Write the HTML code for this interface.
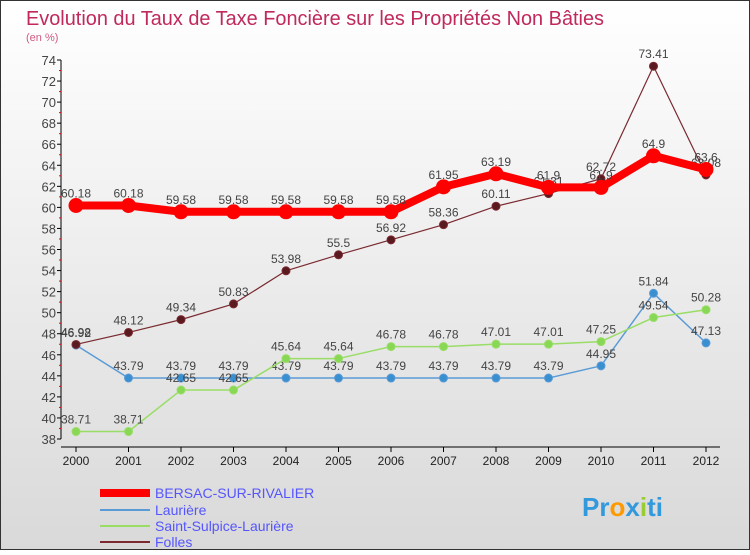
<!DOCTYPE html>
<html><head><meta charset="utf-8"><style>
body{margin:0}
#c{width:750px;height:550px;position:relative;font-family:"Liberation Sans",sans-serif;}
</style></head><body>
<div id="c">
<svg id="s" width="750" height="550" xmlns="http://www.w3.org/2000/svg" font-family="Liberation Sans, sans-serif">
<defs><linearGradient id="bg" x1="0" y1="0" x2="0" y2="1"><stop offset="0" stop-color="#ffffff"/><stop offset="1" stop-color="#d9d9d9"/></linearGradient></defs>
<rect x="0.5" y="0.5" width="749" height="549" fill="url(#bg)" stroke="#333"/>
<text x="26" y="25" font-size="20" fill="#c0295a" textLength="578" lengthAdjust="spacingAndGlyphs">Evolution du Taux de Taxe Foncière sur les Propriétés Non Bâties</text>
<text x="26" y="41" font-size="11" fill="#d05a80">(en %)</text>
<g id="axes"></g><g id="series"></g>
<g>
<line x1="100" y1="493" x2="150" y2="493" stroke="#ff0000" stroke-width="8"/>
<text x="155" y="498" font-size="14" fill="#5555ff">BERSAC-SUR-RIVALIER</text>
<line x1="100" y1="510" x2="150" y2="510" stroke="#5b9bd5" stroke-width="2"/>
<text x="155" y="515" font-size="14" fill="#5555ff">Laurière</text>
<line x1="100" y1="526" x2="150" y2="526" stroke="#99dd66" stroke-width="2"/>
<text x="155" y="531" font-size="14" fill="#5555ff">Saint-Sulpice-Laurière</text>
<line x1="100" y1="542" x2="150" y2="542" stroke="#7a2a30" stroke-width="2"/>
<text x="155" y="547" font-size="14" fill="#5555ff">Folles</text>
</g>
<text x="582" y="516" font-size="26" font-weight="bold"><tspan fill="#3399dd">Pr</tspan><tspan fill="#ff9900">o</tspan><tspan fill="#3399dd">x</tspan><tspan fill="#99cc33">i</tspan><tspan fill="#3399dd">ti</tspan></text>
</svg></div>
<script>
const years=["2000","2001","2002","2003","2004","2005","2006","2007","2008","2009","2010","2011","2012"];
const yTicks=[38,40,42,44,46,48,50,52,54,56,58,60,62,64,66,68,70,72,74];
const bersac=[60.18,60.18,59.58,59.58,59.58,59.58,59.58,61.95,63.19,61.9,61.9,64.9,63.6];
const lauriere=[46.92,43.79,43.79,43.79,43.79,43.79,43.79,43.79,43.79,43.79,44.95,51.84,47.13];
const sulpice=[38.71,38.71,42.65,42.65,45.64,45.64,46.78,46.78,47.01,47.01,47.25,49.54,50.28];
const folles=[46.98,48.12,49.34,50.83,53.98,55.5,56.92,58.36,60.11,61.31,62.72,73.41,63.08];
const NS="http://www.w3.org/2000/svg";
const X=i=>76+i*52.5, Y=v=>439-(v-38)*(379/36);
function mk(t,a,p){const e=document.createElementNS(NS,t);for(const k in a)e.setAttribute(k,a[k]);p.appendChild(e);return e;}
const ax=document.getElementById('axes'),sr=document.getElementById('series');
const yl=mk('line',{x1:61,y1:Y(74),x2:61,y2:Y(38),stroke:'#000'},ax);


yTicks.forEach(v=>{
 const t=mk('line',{x1:57,y1:Y(v),x2:61,y2:Y(v),stroke:'#000'},ax);
 
 
 if(v<74){
 const m=mk('line',{x1:59,y1:Y(v+1),x2:61,y2:Y(v+1),stroke:'#e00'},ax);
 
 
 }
 const l=mk('text',{x:56,y:Y(v)+5,'font-size':13,'text-anchor':'end',fill:'#444'},ax);l.textContent=v;
 
 
});
const xl=mk('line',{x1:61,y1:447,x2:720,y2:447,stroke:'#000'},ax);


years.forEach((y,i)=>{
 const t=mk('line',{x1:X(i),y1:447,x2:X(i),y2:452,stroke:'#000'},ax);
 
 
 const l=mk('text',{x:X(i),y:465,'font-size':12,'text-anchor':'middle',fill:'#222'},ax);l.textContent=y;
 
 
});
function draw(vals,col,w,r,fill,name){
 const g=mk('g',{},sr);
 
 
 const p=mk('polyline',{points:vals.map((v,i)=>X(i)+','+Y(v)).join(' '),fill:'none',stroke:col,'stroke-width':w,'stroke-linejoin':'round'},g);
 
 
 vals.forEach((v,i)=>{
  const c=mk('circle',{cx:X(i),cy:Y(v),r:r,fill:fill,stroke:col,'stroke-width':1},g);
  
  
  const t=mk('text',{x:X(i),y:Y(v)-8,'font-size':12,'text-anchor':'middle',fill:'#444'},g);t.textContent=v;
  
  
 });
}
draw(lauriere,'#5b9bd5',1.5,4,'#3a8fd0','lauriere');
draw(sulpice,'#99dd66',1.5,4,'#88d855','saint-sulpice');
draw(folles,'#7a2a30',1.2,4,'#5a1a20','folles');
draw(bersac,'#ff0000',8,7,'#ff0000','bersac');
</script>
</body></html>
